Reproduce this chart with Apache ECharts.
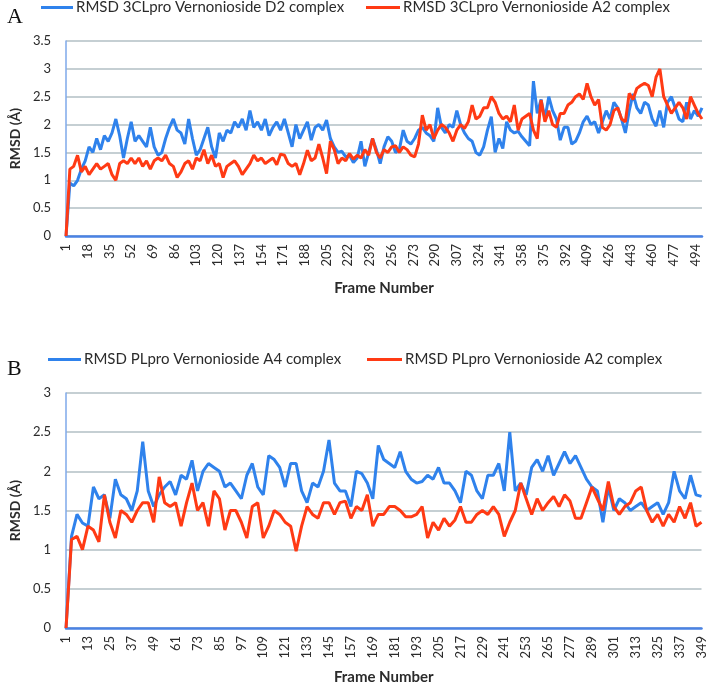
<!DOCTYPE html>
<html>
<head>
<meta charset="utf-8">
<script src="https://cdn.jsdelivr.net/npm/echarts@6/dist/echarts.min.js"></script>
<style>
html,body{margin:0;padding:0;background:#fff;}
#chart{width:708px;height:687px;}
</style>
</head>
<body>
<div id="chart"></div>
<script>
// ---- Panel A: 3CLpro (frames 1..499, values read every 3 frames) ----
const stepA = 3;
const nFramesA = 499;
const nameA1 = 'RMSD 3CLpro Vernonioside D2 complex';
const nameA2 = 'RMSD 3CLpro Vernonioside A2 complex';
const blueA = [
  0, 0.95, 0.9, 1.0, 1.2, 1.35, 1.6, 1.5, 1.75, 1.55,
  1.8, 1.7, 1.85, 2.1, 1.8, 1.4, 1.75, 2.05, 1.7, 1.8,
  1.7, 1.6, 1.95, 1.6, 1.45, 1.5, 1.75, 1.95, 2.1, 1.9,
  1.85, 1.65, 2.1, 1.75, 1.45, 1.55, 1.75, 1.95, 1.6, 1.4,
  1.85, 1.7, 1.9, 1.85, 2.05, 1.95, 2.1, 1.9, 2.25, 1.95,
  2.05, 1.9, 2.1, 1.8, 1.95, 2.05, 1.9, 2.1, 1.85, 1.6,
  2.0, 1.75, 1.9, 2.05, 1.72, 1.95, 2.0, 1.9, 2.08, 1.75,
  1.6, 1.5, 1.52, 1.42, 1.45, 1.32, 1.4, 1.7, 1.25, 1.5,
  1.75, 1.55, 1.3, 1.6, 1.78, 1.7, 1.5, 1.55, 1.9, 1.7,
  1.65, 1.75, 1.9, 1.95, 1.85, 1.8, 1.7, 2.3, 1.95, 1.85,
  2.0, 1.95, 2.25, 2.0, 1.85, 1.75, 1.7, 1.5, 1.45, 1.6,
  1.9, 2.14, 1.5, 1.75, 1.57, 2.05, 1.9, 1.85, 1.88, 1.78,
  1.7, 1.62, 2.78, 2.2, 2.45, 2.1, 2.5, 2.25, 2.1, 1.72,
  1.95, 1.95, 1.65, 1.7, 1.85, 2.05, 2.15, 2.0, 2.05, 1.85,
  2.05, 2.25, 2.1, 2.4, 2.3, 2.1, 1.85, 2.25, 2.55, 2.3,
  2.2, 2.4, 2.35, 2.1, 1.97, 2.25, 1.95, 2.4, 2.5, 2.3,
  2.1, 2.05, 2.4, 2.1, 2.25, 2.15, 2.3
];
const redA = [
  0, 1.2, 1.25, 1.45, 1.15, 1.25, 1.1, 1.2, 1.3, 1.2,
  1.25, 1.3, 1.1, 1.0, 1.3, 1.35, 1.3, 1.4, 1.3, 1.4,
  1.25, 1.35, 1.2, 1.35, 1.4, 1.35, 1.45, 1.3, 1.25, 1.05,
  1.15, 1.3, 1.35, 1.2, 1.4, 1.35, 1.55, 1.3, 1.45, 1.25,
  1.3, 1.05, 1.25, 1.3, 1.35, 1.25, 1.1, 1.2, 1.3, 1.45,
  1.35, 1.4, 1.3, 1.35, 1.4, 1.28, 1.47, 1.45, 1.3, 1.25,
  1.3, 1.1, 1.3, 1.54, 1.35, 1.4, 1.65, 1.4, 1.12, 1.7,
  1.55, 1.3, 1.4, 1.35, 1.48, 1.38, 1.45, 1.4, 1.55, 1.45,
  1.75, 1.5, 1.4, 1.55, 1.5, 1.6, 1.62, 1.5, 1.6, 1.55,
  1.45, 1.42, 1.65, 2.17, 1.9, 2.0, 1.75, 1.9, 2.0, 1.95,
  1.85, 1.7, 1.9, 2.0, 1.93, 2.05, 2.35, 2.1, 2.15, 2.3,
  2.3, 2.5, 2.4, 2.2, 2.1, 2.15, 2.05, 2.35, 1.9, 2.1,
  2.15, 2.2, 1.9, 1.75, 2.44, 2.05, 2.25, 2.0, 1.95, 2.2,
  2.2, 2.35, 2.4, 2.5, 2.55, 2.45, 2.74, 2.5, 2.35, 2.45,
  1.95, 1.9, 2.0, 2.25, 2.3, 2.1, 2.05, 2.56, 2.45, 2.65,
  2.7, 2.74, 2.7, 2.5, 2.85, 3.0, 2.5, 2.35, 2.2, 2.3,
  2.4, 2.3, 2.1, 2.5, 2.35, 2.2, 2.1
];

// ---- Panel B: PLpro (frames 1..349, values read every 3 frames) ----
const stepB = 3;
const nFramesB = 349;
const nameB1 = 'RMSD PLpro Vernonioside A4 complex';
const nameB2 = 'RMSD PLpro Vernonioside A2 complex';
const blueB = [
  0, 1.17, 1.45, 1.34, 1.3, 1.8, 1.65, 1.7, 1.4, 1.9,
  1.7, 1.65, 1.5, 1.75, 2.38, 1.75, 1.55, 1.7, 1.8, 1.87,
  1.7, 1.95, 1.9, 2.14, 1.75, 2.0, 2.1, 2.05, 2.0, 1.8,
  1.85, 1.75, 1.65, 1.95, 2.1, 1.8, 1.7, 2.2, 2.15, 2.05,
  1.8, 2.1, 2.1, 1.75, 1.6, 1.85, 1.8, 2.0, 2.4, 1.85,
  1.75, 1.75, 1.55, 2.0, 1.97, 1.85, 1.65, 2.33, 2.15, 2.1,
  2.05, 2.25, 2.0, 1.9, 1.85, 1.87, 1.95, 1.9, 2.05, 1.85,
  1.85, 1.75, 1.6, 2.0, 1.95, 1.75, 1.65, 1.95, 1.95, 2.1,
  1.75, 2.5, 1.75, 1.85, 1.7, 2.05, 2.15, 2.0, 2.2, 1.95,
  2.1, 2.25, 2.1, 2.2, 2.05, 1.9, 1.8, 1.75, 1.35, 1.8,
  1.5, 1.65, 1.6, 1.5, 1.55, 1.6, 1.5, 1.55, 1.6, 1.45,
  1.6, 2.0, 1.75, 1.65, 1.95, 1.7, 1.68
];
const redB = [
  0, 1.13, 1.17, 1.0, 1.3, 1.25, 1.1, 1.7, 1.35, 1.15,
  1.5, 1.45, 1.35, 1.5, 1.6, 1.6, 1.35, 1.93, 1.6, 1.55,
  1.6, 1.3, 1.6, 1.85, 1.5, 1.6, 1.3, 1.75, 1.65, 1.25,
  1.5, 1.5, 1.35, 1.15, 1.55, 1.6, 1.15, 1.3, 1.5, 1.45,
  1.35, 1.3, 0.98, 1.3, 1.55, 1.45, 1.4, 1.6, 1.6, 1.45,
  1.6, 1.62, 1.4, 1.55, 1.5, 1.7, 1.3, 1.45, 1.45, 1.55,
  1.55, 1.5, 1.42, 1.42, 1.45, 1.55, 1.15, 1.35, 1.25, 1.4,
  1.3, 1.38, 1.55, 1.35, 1.35, 1.45, 1.5, 1.45, 1.55, 1.45,
  1.17, 1.35, 1.5, 1.85, 1.65, 1.45, 1.65, 1.5, 1.6, 1.68,
  1.55, 1.7, 1.62, 1.4, 1.4, 1.6, 1.8, 1.65, 1.5, 1.87,
  1.55, 1.45, 1.55, 1.6, 1.75, 1.8, 1.5, 1.35, 1.45, 1.3,
  1.45, 1.35, 1.55, 1.4, 1.6, 1.3, 1.35
];

// category labels (frame numbers)
const catsA = Array.from({length: nFramesA}, (_, i) => String(i + 1));
const catsB = Array.from({length: nFramesB}, (_, i) => String(i + 1));

const BLUE = '#2f82ec';
const RED = '#ff3a14';
const FONT = 'Lato';
const TXT = '#2b2b2b';

function toPairs(vals, step) { return vals.map((v, i) => [i * step, v]); }

function xAxisCfg(cats, interval, gridIndex, nameGap) {
  return {
    type: 'category', gridIndex: gridIndex, data: cats, boundaryGap: false,
    axisLine: {show: true, lineStyle: {color: '#4a82e4', width: 2.5}},
    axisTick: {show: false},
    axisLabel: {interval: interval, rotate: 90, fontSize: 13, color: TXT, fontFamily: FONT, margin: 8},
    splitLine: {show: false},
    name: 'Frame Number', nameLocation: 'middle', nameGap: nameGap,
    nameTextStyle: {fontSize: 15, fontWeight: 'bold', color: TXT, fontFamily: FONT}
  };
}
function yAxisCfg(max, gridIndex) {
  return {
    type: 'value', gridIndex: gridIndex, min: 0, max: max, interval: 0.5,
    axisLine: {show: true, lineStyle: {color: '#7ea9ea', width: 1.5}},
    axisTick: {show: false},
    axisLabel: {fontSize: 13, color: TXT, fontFamily: FONT, margin: 15},
    splitLine: {show: true, lineStyle: {color: '#b2bfc5', width: 1.5}},
    name: 'RMSD (Å)', nameLocation: 'middle', nameGap: 44,
    nameTextStyle: {fontSize: 14, fontWeight: 'bold', color: TXT, fontFamily: FONT}
  };
}
function legendCfg(name, left, top, w) {
  return {
    data: [name], left: left, top: top, icon: 'rect', itemWidth: w, itemHeight: 3,
    itemGap: 0, padding: 0, selectedMode: false,
    textStyle: {fontSize: 15, color: TXT, fontFamily: FONT, padding: [0, 0, 0, -2]}
  };
}
function lineSeries(name, vals, step, color, idx) {
  return {
    type: 'line', name: name, xAxisIndex: idx, yAxisIndex: idx,
    data: toPairs(vals, step), showSymbol: false, symbol: 'none',
    lineStyle: {color: color, width: 3}, itemStyle: {color: color},
    emphasis: {disabled: true}, silent: true
  };
}

const chart = echarts.init(document.getElementById('chart'), null, {renderer: 'canvas'});
chart.setOption({
  animation: false,
  backgroundColor: '#fff',
  graphic: [
    {type: 'text', left: 7, top: 6, style: {text: 'A', font: '22px "Liberation Serif"', fill: '#111'}},
    {type: 'text', left: 7, top: 358, style: {text: 'B', font: '22px "Liberation Serif"', fill: '#111'}}
  ],
  legend: [
    legendCfg(nameA1, 41, 0, 32),
    legendCfg(nameA2, 366, 0, 34),
    legendCfg(nameB1, 48, 352, 33),
    legendCfg(nameB2, 367, 352, 35)
  ],
  grid: [
    {left: 64, right: 6, top: 41, height: 195},
    {left: 64, right: 6, top: 393, height: 235}
  ],
  xAxis: [xAxisCfg(catsA, 16, 0, 45), xAxisCfg(catsB, 11, 1, 42)],
  yAxis: [yAxisCfg(3.5, 0), yAxisCfg(3, 1)],
  series: [
    lineSeries(nameA1, blueA, stepA, BLUE, 0),
    lineSeries(nameA2, redA, stepA, RED, 0),
    lineSeries(nameB1, blueB, stepB, BLUE, 1),
    lineSeries(nameB2, redB, stepB, RED, 1)
  ]
});
</script>
</body>
</html>
